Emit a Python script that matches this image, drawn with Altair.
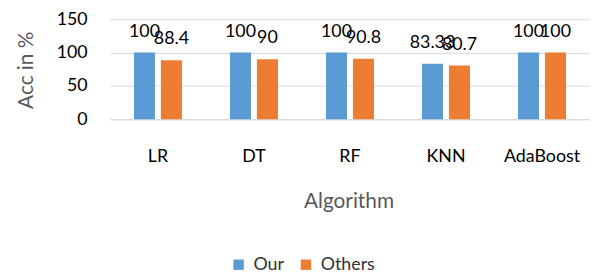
import altair as alt
import pandas as pd

algorithms = ["LR", "DT", "RF", "KNN", "AdaBoost"]
our = [100, 100, 100, 83.33, 100]
others = [88.4, 90, 90.8, 80.7, 100]
series = ["Our", "Others"]
colors = ["#5B9BD5", "#ED7D31"]
y_ticks = [0, 50, 100, 150]

rows = []
for a, o, t in zip(algorithms, our, others):
    rows.append({"Algorithm": a, "Series": "Our", "Acc": o})
    rows.append({"Algorithm": a, "Series": "Others", "Acc": t})
df = pd.DataFrame(rows)

FONT = "Lato"

x = alt.X(
    "Algorithm:N",
    sort=algorithms,
    scale=alt.Scale(paddingInner=0.5, paddingOuter=0.25),
    axis=alt.Axis(
        title="Algorithm",
        labelAngle=0,
        ticks=False,
        tickSize=0,
        domain=True,
        domainColor="#D9D9D9",
        labelPadding=38,
        labelBaseline="middle",
        labelFontSize=18,
        labelColor="#000000",
        labelFont=FONT,
        titleFont=FONT,
        titleFontSize=21,
        titleFontWeight="normal",
        titleColor="#595959",
        titleX=241,
        titleY=89,
        titleAlign="center",
        titleBaseline="alphabetic",
    ),
)
xoff = alt.XOffset(
    "Series:N",
    sort=series,
    scale=alt.Scale(domain=series, paddingInner=0.22, paddingOuter=0),
)
y = alt.Y(
    "Acc:Q",
    scale=alt.Scale(domain=[0, 150], nice=False),
    axis=alt.Axis(
        title="Acc in %",
        values=y_ticks,
        ticks=False,
        domain=False,
        grid=True,
        gridColor="#D9D9D9",
        labelPadding=23,
        labelFontSize=18,
        labelColor="#000000",
        labelFont=FONT,
        titleFont=FONT,
        titleFontSize=21,
        titleFontWeight="normal",
        titleColor="#595959",
        titleX=-84,
        titleY=51,
        titleAngle=-90,
        titleAlign="center",
        titleBaseline="middle",
    ),
)
color = alt.Color(
    "Series:N",
    sort=series,
    scale=alt.Scale(domain=series, range=colors),
    legend=alt.Legend(
        title=None,
        orient="none",
        direction="horizontal",
        legendX=121,
        legendY=239,
        symbolType="square",
        symbolSize=110,
        symbolStrokeWidth=0,
        labelFont=FONT,
        labelFontSize=18,
        labelColor="#333333",
        labelOffset=6,
        columnPadding=13,
        padding=0,
    ),
)

bars = alt.Chart(df).mark_bar().encode(x=x, xOffset=xoff, y=y, color=color)
labels = alt.Chart(df).mark_text(
    baseline="alphabetic", dy=-16, fontSize=18, font=FONT, color="#000000"
).encode(x=x, xOffset=xoff, y=y, text=alt.Text("Acc:Q"))

chart = (
    alt.layer(bars, labels)
    .properties(
        width=485,
        height=101,
        autosize=alt.AutoSizeParams(type="none"),
        padding={"left": 103, "top": 10, "right": 0, "bottom": 157},
    )
    .configure_view(stroke=None)
)

chart.save("out.html", embed_options={"renderer": "svg", "actions": False})
